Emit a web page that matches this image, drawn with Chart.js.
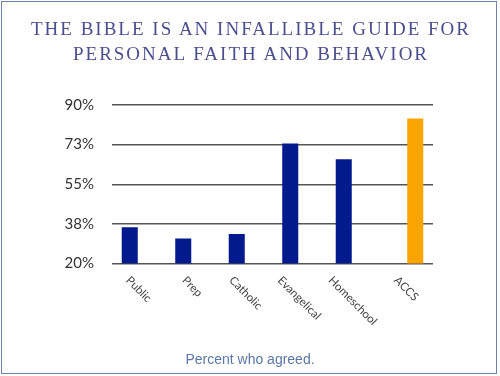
<!DOCTYPE html>
<html>
<head>
<meta charset="utf-8">
<script src="https://cdn.jsdelivr.net/npm/chart.js@4/dist/chart.umd.min.js"></script>
<style>
  html, body { margin: 0; padding: 0; background: #fff; }
  #wrap { position: relative; width: 500px; height: 376px; overflow: hidden; }
  #frame { position: absolute; left: 1px; top: 1px; width: 494px; height: 371px; border: 1.5px solid #6b84ad; }
  #title { position: absolute; left: 0; width: 502px; top: 16px; text-align: center;
           font-family: "Liberation Serif", serif; font-size: 19px; line-height: 25px;
           letter-spacing: 2px; color: #4b4f8e; }
  #caption { position: absolute; left: 0; width: 500px; top: 351px; text-align: center;
             font-family: "Liberation Sans", Arial, sans-serif; font-size: 14px; line-height: 16px;
             color: #5a77a8; }
  canvas { position: absolute; left: 0; top: 0; }
</style>
</head>
<body>
<div id="wrap">
  <canvas id="c" width="500" height="376"></canvas>
  <div id="frame"></div>
  <div id="title">THE BIBLE IS AN INFALLIBLE GUIDE FOR<br>PERSONAL FAITH AND BEHAVIOR</div>
  <div id="caption">Percent who agreed.</div>
</div>
<script>
// ---- data ----
const categories = ['Public', 'Prep', 'Catholic', 'Evangelical', 'Homeschool', 'ACCS'];
const otherSchools = [36, 31, 33, 73, 66, null];
const accsSchools = [null, null, null, null, null, 84];
const yTickValues = [20, 37.5, 55, 72.5, 90];

const rotatedXLabels = {
  id: 'rotatedXLabels',
  afterDraw(chart) {
    const xs = chart.scales.x;
    const ctx = chart.ctx;
    ctx.save();
    ctx.font = '11.5px Lato, "Open Sans", sans-serif';
    ctx.fillStyle = '#444';
    ctx.textAlign = 'center';
    ctx.textBaseline = 'middle';
    const s = Math.SQRT1_2;
    categories.forEach((lab, i) => {
      const x = xs.getPixelForTick(i);
      const w = ctx.measureText(lab).width;
      const cy = xs.bottom + 5 + (w / 2) * s;
      ctx.save();
      ctx.translate(x, cy);
      ctx.rotate(Math.PI / 4);
      ctx.fillText(lab, 0, 0);
      ctx.restore();
    });
    ctx.restore();
  }
};

new Chart(document.getElementById('c'), {
  type: 'bar',
  data: {
    labels: categories,
    datasets: [
      { label: 'Others', data: otherSchools, backgroundColor: '#031a8c' },
      { label: 'ACCS', data: accsSchools, backgroundColor: '#fca500' }
    ]
  },
  options: {
    responsive: false,
    animation: false,
    devicePixelRatio: 1,
    categoryPercentage: 0.673,
    barPercentage: 0.89,
    layout: { padding: { left: 0, right: 67, top: 105, bottom: 102.5 } },
    plugins: { legend: { display: false }, tooltip: { enabled: false } },
    scales: {
      x: {
        grid: { display: false, drawTicks: false },
        border: { display: false },
        ticks: { display: false },
        afterFit(scale) { scale.height = 10; }
      },
      y: {
        min: 20, max: 90,
        afterBuildTicks(scale) { scale.ticks = yTickValues.map(v => ({ value: v })); },
        afterFit(scale) { scale.width = 112; },
        grid: { color: '#555', lineWidth: 1.4, drawTicks: false },
        border: { display: false },
        ticks: {
          padding: 18,
          color: '#333',
          font: { family: 'Lato', size: 15 },
          callback: v => Math.round(v) + '%'
        }
      }
    }
  },
  plugins: [rotatedXLabels]
});
</script>
</body>
</html>
